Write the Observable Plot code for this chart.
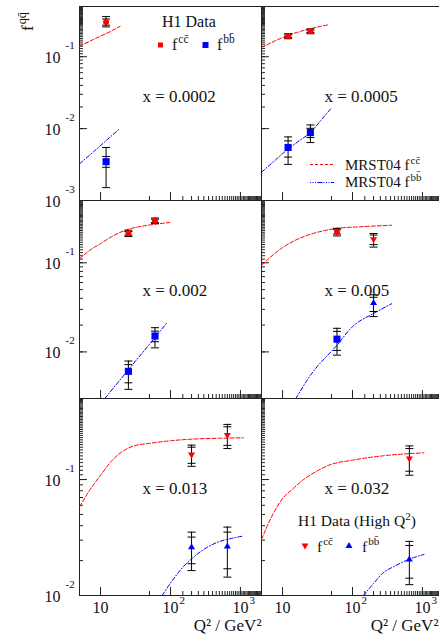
<!DOCTYPE html>
<html><head><meta charset="utf-8">
<script src="https://cdn.jsdelivr.net/npm/d3@7"></script>
<script src="https://cdn.jsdelivr.net/npm/@observablehq/plot@0.6"></script>
<style>
html,body{margin:0;padding:0;background:#fff;}
#chart{position:relative;width:439px;height:640px;overflow:hidden;background:#fff;font-family:'Liberation Serif',serif;}
</style></head>
<body><div id="chart"></div>
<script>
// ---------- data ----------
const xDomain = [5, 2000];
const yMax = 0.5;
const panelXLabel = ["x = 0.0002", "x = 0.0005", "x = 0.002", "x = 0.005", "x = 0.013", "x = 0.032"];
const panelYMin = [0.001, 0.001, 0.003, 0.003, 0.01, 0.01];
const xMajorTicks = [10, 100, 1000];
const xMajorExp = ["", "2", "3"];
const yMajorTicks = [0.001, 0.01, 0.1];
const yMajorExp = ["-3", "-2", "-1"];
const xAxisTitle = "Q² / GeV²";

// MRST04 predictions [Q², f]
const mrstCC_x0002 = [[5,0.14],[8,0.175],[12,0.21],[19,0.265]];
const mrstBB_x0002 = [[5,0.00323],[8,0.0048],[12,0.0068],[19,0.0101]];
const mrstCC_x0005 = [[5,0.134],[8,0.168],[12,0.199],[18,0.225],[25,0.245],[35,0.265],[46,0.279]];
const mrstBB_x0005 = [[5,0.00247],[8,0.0037],[12,0.0052],[18,0.00695],[25,0.0088],[35,0.0129],[49,0.019]];
const mrstCC_x002 = [[5,0.111],[7,0.138],[10,0.164],[15,0.2],[25,0.238],[40,0.258],[60,0.271],[98,0.283]];
const mrstBB_x002 = [[11.5,0.003],[25,0.0063],[60,0.0145],[88,0.021]];
const mrstCC_x005 = [[5,0.094],[10,0.148],[15,0.178],[25,0.209],[40,0.23],[60,0.243],[150,0.255],[363,0.264]];
const mrstBB_x005 = [[15.5,0.003],[25,0.00545],[60,0.0119],[100,0.0192],[200,0.027],[363,0.0347]];
const mrstCC_x013 = [[5,0.058],[7,0.081],[10,0.109],[14,0.142],[20,0.173],[30,0.195],[50,0.205],[100,0.216],[200,0.223],[500,0.227],[1100,0.229]];
const mrstBB_x013 = [[76,0.01],[100,0.0128],[150,0.0175],[200,0.0207],[300,0.025],[500,0.0292],[700,0.0308],[1100,0.0326]];
const mrstCC_x032 = [[5,0.0305],[7,0.048],[10,0.0686],[14,0.083],[19.3,0.0986],[30,0.117],[46,0.133],[100,0.147],[268,0.16],[1050,0.17]];
const mrstBB_x032 = [[143,0.01],[200,0.0127],[268,0.0155],[400,0.0179],[630,0.0204],[1050,0.0226]];

// H1 data: [panel, Q², f, stat-, stat+, total-, total+]
const h1CC = [
  [0, 12, 0.304, 0.275, 0.335, 0.26, 0.362],
  [1, 12, 0.193, 0.185, 0.201, 0.178, 0.209],
  [1, 25, 0.226, 0.217, 0.235, 0.209, 0.244],
  [2, 25, 0.214, 0.204, 0.224, 0.197, 0.232],
  [2, 60, 0.296, 0.284, 0.308, 0.275, 0.318],
  [3, 60, 0.222, 0.21, 0.235, 0.2, 0.244]
];
const h1BB = [
  [0, 12, 0.00347, 0.0029, 0.0041, 0.00151, 0.00547],
  [1, 12, 0.00547, 0.00402, 0.00676, 0.00318, 0.00767],
  [1, 25, 0.00881, 0.0075, 0.0101, 0.0064, 0.01125],
  [2, 25, 0.00605, 0.0045, 0.0072, 0.0038, 0.0079],
  [2, 60, 0.01506, 0.013, 0.0171, 0.0111, 0.0187],
  [3, 60, 0.0139, 0.0104, 0.017, 0.0092, 0.0184]
];
const h1HighCC = [
  [3, 200, 0.184, 0.16, 0.205, 0.15, 0.213],
  [4, 200, 0.164, 0.138, 0.19, 0.13, 0.198],
  [4, 650, 0.242, 0.197, 0.285, 0.185, 0.299],
  [5, 650, 0.152, 0.118, 0.185, 0.109, 0.195]
];
const h1HighBB = [
  [3, 200, 0.0353, 0.0284, 0.041, 0.0249, 0.0437],
  [4, 200, 0.0261, 0.0188, 0.0319, 0.0164, 0.0352],
  [4, 650, 0.0265, 0.017, 0.0352, 0.0144, 0.0389],
  [5, 650, 0.0204, 0.0141, 0.027, 0.0124, 0.0293]
];

const legendH1 = "H1 Data";
const legendHigh = ["H1 Data (High Q", "2", ")"];
const legendMRST = "MRST04 ";
const supCC = "cc\u0304", supBB = "bb\u0304", supQQ = "qq\u0304";

// ---------- drawing ----------
const mrstCC = [mrstCC_x0002, mrstCC_x0005, mrstCC_x002, mrstCC_x005, mrstCC_x013, mrstCC_x032];
const mrstBB = [mrstBB_x0002, mrstBB_x0005, mrstBB_x002, mrstBB_x005, mrstBB_x013, mrstBB_x032];

const RED = "#ff0000", BLUE = "#0000ff", AX = "#222", INK = "#111";
const FONT = "'Liberation Serif', 'Times New Roman', serif";
const cols = [79, 261], rows = [6, 200, 398], rowH = [194, 198, 197], PW = 182;
const M = {l: 45, r: 5, t: 5, b: 45};
const chart = document.getElementById("chart");

const crossbar = {draw(ctx, size) { const r = Math.sqrt(size / Math.PI); ctx.moveTo(-r, 0); ctx.lineTo(r, 0); }};
const triDown = {draw(ctx, size) { const y = Math.sqrt(size / (Math.sqrt(3) * 3)); ctx.moveTo(0, 2 * y); ctx.lineTo(Math.sqrt(3) * y, -y); ctx.lineTo(-Math.sqrt(3) * y, -y); ctx.closePath(); }};

for (let i = 0; i < 6; i++) {
  const r = Math.floor(i / 2), c = i % 2, H = rowH[r];
  const yDomain = [panelYMin[i], yMax];
  const yMaj = yMajorTicks.filter(v => v >= yDomain[0] * 0.999 && v <= yDomain[1]);
  const xMinor = d3.scaleLog().domain(xDomain).ticks(60);
  const yMinor = d3.scaleLog().domain(yDomain).ticks(60);
  const pts = arr => arr.filter(d => d[0] === i).map(d => ({q2: d[1], f: d[2], sLo: d[3], sHi: d[4], tLo: d[5], tHi: d[6]}));
  const cc = pts(h1CC), bb = pts(h1BB), hcc = pts(h1HighCC), hbb = pts(h1HighBB);
  const all = [...cc, ...bb, ...hcc, ...hbb];
  const bars = all.flatMap(d => [d.sLo, d.sHi, d.tLo, d.tHi].map(v => ({q2: d.q2, f: v})));
  const toObj = a => a.map(([q2, f]) => ({q2, f}));
  const marks = [
    Plot.frame({stroke: AX}),
    Plot.tickX(xMinor, {x: d => d, insetTop: H - 4, stroke: AX}),
    Plot.tickX(xMajorTicks, {x: d => d, insetTop: H - 8, stroke: AX}),
    Plot.tickY(yMinor, {y: d => d, insetRight: PW - 4, stroke: AX}),
    Plot.tickY(yMaj, {y: d => d, insetRight: PW - 8, stroke: AX}),
    Plot.line(toObj(mrstCC[i]), {x: "q2", y: "f", stroke: RED, strokeWidth: 1, strokeDasharray: "4,2", curve: "monotone-x", clip: true}),
    Plot.line(toObj(mrstBB[i]), {x: "q2", y: "f", stroke: BLUE, strokeWidth: 1, strokeDasharray: "4,2,1,2", curve: "monotone-x", clip: true}),
    Plot.ruleX(all, {x: "q2", y1: "tLo", y2: "tHi", stroke: "#000", strokeWidth: 1}),
    Plot.dot(bars, {x: "q2", y: "f", symbol: crossbar, r: 4, stroke: "#000", fill: "none", strokeWidth: 1}),
    Plot.dot(cc, {x: "q2", y: "f", symbol: "circle", r: 3, fill: RED}),
    Plot.dot(bb, {x: "q2", y: "f", symbol: "square", r: 4, fill: BLUE}),
    Plot.dot(hcc, {x: "q2", y: "f", symbol: triDown, r: 2.6, fill: RED}),
    Plot.dot(hbb, {x: "q2", y: "f", symbol: "triangle", r: 2.6, fill: BLUE}),
    Plot.text([panelXLabel[i]], {text: d => d, frameAnchor: "top-left", dx: 63, dy: 83, textAnchor: "start", fontSize: 17, fill: INK})
  ];
  if (c === 0) marks.push(
    Plot.text(yMaj, {y: d => d, text: () => "10", frameAnchor: "left", textAnchor: "end", dx: -19, dy: 1, fontSize: 16, fill: INK}),
    Plot.text(yMaj, {y: d => d, text: d => yMajorExp[yMajorTicks.indexOf(d)], frameAnchor: "left", textAnchor: "start", dx: -14, dy: -11, fontSize: 11, fill: INK})
  );
  if (r === 2) marks.push(
    Plot.text(xMajorTicks, {x: d => d, text: () => "10", frameAnchor: "bottom", textAnchor: "middle", dy: 17, fontSize: 16, fill: INK}),
    Plot.text(xMajorTicks, {x: d => d, text: d => xMajorExp[xMajorTicks.indexOf(d)], frameAnchor: "bottom", textAnchor: "start", dx: 9, dy: 8, fontSize: 11, fill: INK}),
    Plot.text([xAxisTitle], {text: d => d, frameAnchor: "bottom-right", textAnchor: "end", dx: c === 0 ? 0 : -5, dy: 35, fontSize: 17, fill: INK})
  );
  const svg = Plot.plot({
    width: PW + M.l + M.r, height: H + M.t + M.b,
    marginLeft: M.l, marginRight: M.r, marginTop: M.t, marginBottom: M.b,
    x: {type: "log", domain: xDomain, axis: null},
    y: {type: "log", domain: yDomain, axis: null},
    style: {background: "none", overflow: "visible", maxWidth: "none", fontFamily: FONT, color: INK},
    marks
  });
  svg.style.position = "absolute";
  svg.style.left = (cols[c] - M.l) + "px";
  svg.style.top = (rows[r] - M.t) + "px";
  chart.appendChild(svg);
}

// ---------- legends & y title overlay ----------
const ov = d3.select(chart).append("svg")
  .attr("width", 439).attr("height", 640)
  .style("position", "absolute").style("left", "0px").style("top", "0px")
  .attr("font-family", FONT).attr("fill", INK);

function fSup(x, y, prefix, sup, size, g = ov) {
  const t = g.append("text").attr("x", x).attr("y", y).attr("font-size", size);
  t.append("tspan").text(prefix + "f");
  t.append("tspan").attr("dx", 1).attr("dy", -size * 0.42).attr("font-size", size * 0.72).text(sup);
  return t;
}

// top-left H1 legend
ov.append("text").attr("x", 162).attr("y", 27).attr("font-size", 16).text(legendH1);
ov.append("rect").attr("x", 158).attr("y", 42.5).attr("width", 5).attr("height", 5).attr("fill", RED);
fSup(172, 50, "", supCC, 16);
ov.append("rect").attr("x", 202.5).attr("y", 42).attr("width", 6).attr("height", 6).attr("fill", BLUE);
fSup(217, 50, "", supBB, 16);

// top-right MRST legend
ov.append("line").attr("x1", 310).attr("x2", 334).attr("y1", 164.5).attr("y2", 164.5).attr("stroke", RED).attr("stroke-dasharray", "3,2");
fSup(345, 170, legendMRST, supCC, 15);
ov.append("line").attr("x1", 310).attr("x2", 334).attr("y1", 182.5).attr("y2", 182.5).attr("stroke", BLUE).attr("stroke-dasharray", "1,1.5,1,1.5,1,1.5,5,1");
fSup(345, 187, legendMRST, supBB, 15);

// bottom-right high-Q2 legend
const th = ov.append("text").attr("x", 298).attr("y", 526).attr("font-size", 15.5);
th.append("tspan").text(legendHigh[0]);
th.append("tspan").attr("dy", -6).attr("font-size", 11).text(legendHigh[1]);
th.append("tspan").attr("dy", 6).text(legendHigh[2]);
ov.append("path").attr("transform", "translate(305,545.5)").attr("d", d3.symbol(triDown, 21)()).attr("fill", RED);
fSup(317, 552, "", supCC, 15.5);
ov.append("path").attr("transform", "translate(349,546)").attr("d", d3.symbol(d3.symbolTriangle, 21)()).attr("fill", BLUE);
fSup(362, 552, "", supBB, 15.5);

// y title
const gy = ov.append("g").attr("transform", "translate(33,31) rotate(-90)");
fSup(0, 0, "", supQQ, 17, gy);
</script></body></html>
